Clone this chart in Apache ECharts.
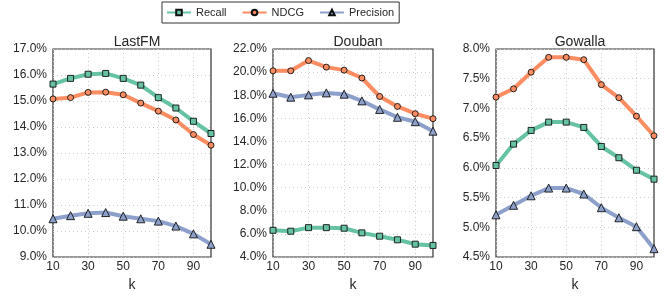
<!DOCTYPE html>
<html>
<head>
<meta charset="utf-8">
<script src="https://cdn.jsdelivr.net/npm/echarts@6/dist/echarts.min.js"></script>
<style>
  html, body { margin: 0; padding: 0; background: #fff; }
  #chart { width: 664px; height: 297px; }
</style>
</head>
<body>
<div id="chart"></div>
<script>
// k values on the x axis
const kValues = ['10', '20', '30', '40', '50', '60', '70', '80', '90', '100'];
const datasets = ['LastFM', 'Douban', 'Gowalla'];

// metric values in percent
const lastfmRecall = [15.65, 15.87, 16.03, 16.06, 15.87, 15.61, 15.13, 14.73, 14.22, 13.75];
const lastfmNdcg = [15.08, 15.13, 15.33, 15.34, 15.24, 14.92, 14.61, 14.27, 13.71, 13.30];
const lastfmPrecision = [10.47, 10.59, 10.68, 10.71, 10.57, 10.47, 10.38, 10.19, 9.89, 9.49];

const doubanRecall = [6.31, 6.23, 6.54, 6.54, 6.49, 6.09, 5.80, 5.49, 5.11, 5.00];
const doubanNdcg = [20.11, 20.11, 21.00, 20.43, 20.17, 19.49, 17.89, 17.03, 16.40, 15.97];
const doubanPrecision = [18.17, 17.83, 18.03, 18.20, 18.09, 17.51, 16.77, 16.09, 15.71, 14.89];

const gowallaRecall = [6.04, 6.40, 6.63, 6.77, 6.77, 6.68, 6.36, 6.17, 5.96, 5.81];
const gowallaNdcg = [7.19, 7.33, 7.61, 7.86, 7.86, 7.82, 7.40, 7.18, 6.87, 6.54];
const gowallaPrecision = [5.21, 5.37, 5.53, 5.66, 5.66, 5.56, 5.33, 5.16, 5.01, 4.64];

// y axis ranges [min, max, interval]
const yRanges = [[9, 17, 1], [4, 22, 2], [4.5, 8, 0.5]];

const seriesData = [
  [lastfmRecall, lastfmNdcg, lastfmPrecision],
  [doubanRecall, doubanNdcg, doubanPrecision],
  [gowallaRecall, gowallaNdcg, gowallaPrecision]
];

const metrics = [
  { name: 'Recall', color: '#66c2a5', symbol: 'rect', size: 6 },
  { name: 'NDCG', color: '#fc8d62', symbol: 'circle', size: 6 },
  { name: 'Precision', color: '#8da0cb', symbol: 'triangle', size: 8 }
];

const textColor = '#262626';
const grids = [
  { left: 53, width: 158, top: 49, height: 210 },
  { left: 273, width: 160, top: 49, height: 210 },
  { left: 496, width: 158, top: 49, height: 210 }
];

const chart = echarts.init(document.getElementById('chart'));

let option = {
  animation: false,
  textStyle: { fontFamily: 'Liberation Sans, Arial, sans-serif' },
  title: datasets.map((name, i) => ({
    text: name,
    left: grids[i].left + grids[i].width / 2,
    textAlign: 'center',
    top: 30,
    textStyle: { fontSize: 14, fontWeight: 'normal', color: textColor }
  })),
  legend: {
    data: metrics.map(m => m.name),
    left: 162,
    top: 2,
    padding: [5, 5, 5, 4],
    borderColor: '#333',
    borderWidth: 1,
    borderRadius: 0,
    itemGap: 15,
    itemWidth: 24,
    itemHeight: 7,
    textStyle: { fontSize: 11, color: textColor }
  },
  grid: grids.map(g => ({
    ...g,
    show: true,
    borderColor: '#333',
    borderWidth: 1.2
  })),
  xAxis: grids.map((g, i) => ({
    type: 'category',
    gridIndex: i,
    data: kValues,
    boundaryGap: false,
    name: 'k',
    nameLocation: 'middle',
    nameGap: 21,
    nameTextStyle: { fontSize: 14, color: textColor },
    axisLine: { show: false },
    axisTick: { show: false },
    axisLabel: { interval: 1, fontSize: 12, color: textColor, margin: 4 },
    splitLine: { show: true, interval: 1, lineStyle: { color: '#cccccc', type: [1, 3], width: 1 } }
  })),
  yAxis: yRanges.map((r, i) => ({
    type: 'value',
    gridIndex: i,
    min: r[0],
    max: r[1],
    interval: r[2],
    axisLine: { show: false },
    axisTick: { show: false },
    axisLabel: {
      fontSize: 12,
      color: textColor,
      margin: 6,
      formatter: v => v.toFixed(1) + '%'
    },
    splitLine: { show: true, lineStyle: { color: '#cccccc', type: [1, 3], width: 1 } }
  })),
  series: []
};

seriesData.forEach((group, gi) => {
  group.forEach((values, mi) => {
    const m = metrics[mi];
    option.series.push({
      name: m.name,
      type: 'line',
      xAxisIndex: gi,
      yAxisIndex: gi,
      data: values,
      symbol: m.symbol,
      symbolSize: m.size,
      showAllSymbol: true,
      lineStyle: { color: m.color, width: 4 },
      itemStyle: { color: m.color, borderColor: '#111', borderWidth: 0.9 },
      emphasis: { disabled: true }
    });
  });
});

chart.setOption(option);
</script>
</body>
</html>
